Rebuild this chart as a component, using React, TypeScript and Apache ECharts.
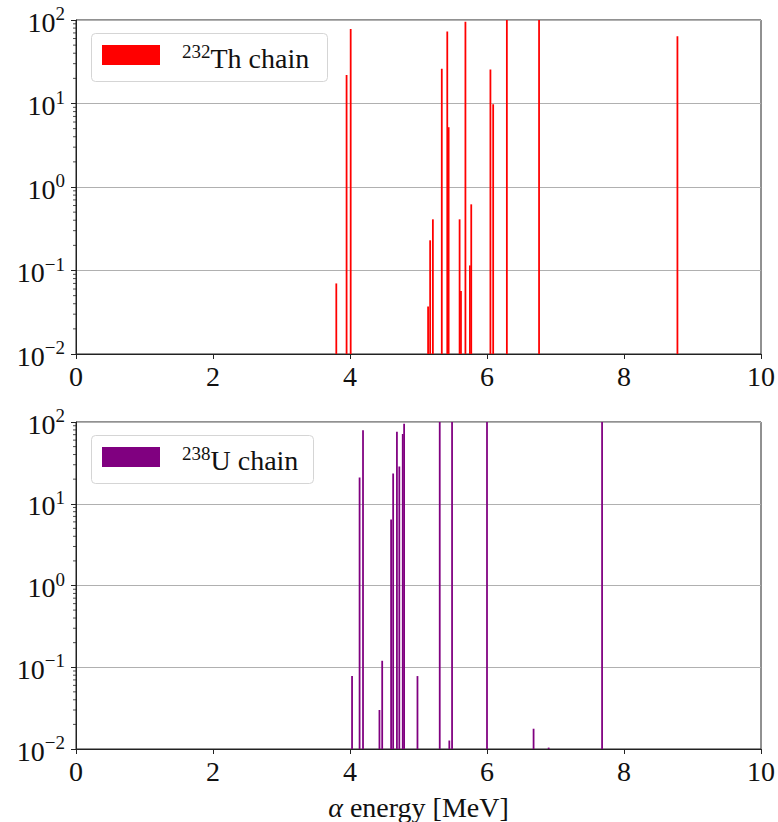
import React, { useEffect, useRef } from "react";
import * as echarts from "echarts";

// 232Th chain: alpha energies [MeV] and intensities [%]
const thEnergy = [3.80, 3.95, 4.01, 5.14, 5.17, 5.21, 5.34, 5.42, 5.44, 5.685, 5.60, 5.62, 5.75, 5.77, 6.05, 6.09, 6.29, 6.76, 8.78];
const thIntensity = [0.07, 22, 78, 0.037, 0.23, 0.41, 26, 73, 5.2, 95, 0.41, 0.057, 0.115, 0.62, 25.5, 9.8, 100, 100, 64];

// 238U chain
const uEnergy = [4.03, 4.14, 4.19, 4.43, 4.47, 4.60, 4.63, 4.685, 4.72, 4.77, 4.79, 4.985, 5.31, 5.45, 5.49, 6.00, 6.68, 6.90, 7.68];
const uIntensity = [0.078, 21, 79, 0.03, 0.12, 6.4, 23.5, 76, 28.5, 71.5, 95, 0.078, 100, 0.0127, 100, 100, 0.0177, 0.0104, 100];

const xTicks = [0, 2, 4, 6, 8, 10];
const yMin = 0.01;
const yMax = 100;

const BAR_W = 0.026;
const FONT = "'Liberation Serif', 'DejaVu Serif', serif";

function minorTickValues(): number[] {
  const out: number[] = [];
  for (let e = -2; e < 2; e++) {
    for (let m = 2; m <= 9; m++) out.push(m * Math.pow(10, e));
  }
  return out;
}

function supLabel(v: number) {
  const e = Math.round(Math.log10(v));
  const s = e < 0 ? "\u2212" + -e : String(e);
  return `{b|10}{s|${s}}`;
}

export default function App() {
  const ref = useRef<HTMLDivElement>(null);

  useEffect(() => {
    document.body.style.margin = "0";
    if (!ref.current) return;
    const chart = echarts.init(ref.current, null, { renderer: "svg" });

    const grids = [
      { left: 76, top: 20, width: 688, height: 334 },
      { left: 76, top: 422, width: 688, height: 332 },
    ];

    const xAxisBase = (gi: number) => ({
      type: "value" as const,
      gridIndex: gi,
      min: 0,
      max: 10,
      interval: 2,
      axisLine: { show: true, lineStyle: { color: "#222", width: 1 } },
      axisTick: { show: true, length: 5, lineStyle: { color: "#222" } },
      axisLabel: {
        show: true,
        margin: 8,
        fontSize: 28,
        fontFamily: FONT,
        color: "#111",
        formatter: (v: number) => (xTicks.includes(v) ? String(v) : ""),
      },
      splitLine: { show: false },
    });

    const yAxisBase = (gi: number) => ({
      type: "log" as const,
      gridIndex: gi,
      logBase: 10,
      min: yMin,
      max: yMax,
      interval: 1,
      axisLine: { show: true, lineStyle: { color: "#222", width: 1 } },
      axisTick: { show: true, length: 5, lineStyle: { color: "#222" } },
      axisLabel: {
        show: true,
        margin: 11,
        formatter: supLabel,
        rich: {
          b: { fontSize: 28, fontFamily: FONT, color: "#111", verticalAlign: "bottom", lineHeight: 32 },
          s: { fontSize: 19, fontFamily: FONT, color: "#111", verticalAlign: "top", lineHeight: 19 },
        },
      },
      splitLine: { show: true, lineStyle: { color: "#b0b0b0", width: 1 } },
    });

    const barSeries = (gi: number, energies: number[], vals: number[], color: string) => ({
      type: "custom" as const,
      xAxisIndex: gi,
      yAxisIndex: gi,
      clip: true,
      data: energies.map((e, i) => [e, vals[i]]),
      encode: { x: 0, y: 1 },
      renderItem: (params: any, api: any) => {
        const e = api.value(0);
        const v = api.value(1);
        const top = api.coord([e, v]);
        const base = api.coord([e, yMin]);
        const l = api.coord([e - BAR_W / 2, v])[0];
        const r = api.coord([e + BAR_W / 2, v])[0];
        return {
          type: "rect",
          shape: { x: l, y: top[1], width: r - l, height: base[1] - top[1] },
          style: { fill: color },
        };
      },
      z: 3,
    });

    const minorSeries = (gi: number) => ({
      type: "custom" as const,
      xAxisIndex: gi,
      yAxisIndex: gi,
      clip: false,
      silent: true,
      data: minorTickValues().map((v) => [0, v]),
      encode: { x: 0, y: 1 },
      renderItem: (params: any, api: any) => {
        const p = api.coord([0, api.value(1)]);
        return {
          type: "line",
          shape: { x1: p[0] - 3, y1: p[1], x2: p[0], y2: p[1] },
          style: { stroke: "#222", lineWidth: 0.8 },
        };
      },
      z: 4,
    });

    const legendItems = (top: number, color: string, sup: string, name: string, boxW: number) => [
      {
        type: "rect",
        shape: { x: 91.5, y: top + 0.5, width: boxW, height: 48, r: 4 },
        style: { fill: "rgba(255,255,255,0.85)", stroke: "#d5d5d5", lineWidth: 1 },
        z: 10,
      },
      {
        type: "rect",
        shape: { x: 102, y: top + 12, width: 58, height: 20 },
        style: { fill: color },
        z: 11,
      },
      {
        type: "text",
        x: 182,
        y: top + 24,
        style: {
          text: `{s|${sup}}{t|${name}}`,
          verticalAlign: "middle",
          align: "left",
          rich: {
            s: { fontSize: 19, fontFamily: FONT, fill: "#111", verticalAlign: "top", lineHeight: 19 },
            t: { fontSize: 28, fontFamily: FONT, fill: "#111", verticalAlign: "bottom", lineHeight: 31 },
          },
        },
        z: 11,
      },
    ];

    const bottomX: any = {
      ...xAxisBase(1),
      name: "{a|\u03b1} energy [MeV]",
      nameLocation: "middle",
      nameGap: 44,
      nameTextStyle: {
        fontSize: 28,
        fontFamily: FONT,
        color: "#111",
        rich: {
          a: { fontSize: 28, fontFamily: FONT, fontStyle: "italic", color: "#111" },
        },
      },
    };

    chart.setOption({
      animation: false,
      backgroundColor: "#fff",
      grid: grids.map((g) => ({ ...g, show: true, borderColor: "#222", borderWidth: 1, backgroundColor: "transparent" })),
      xAxis: [xAxisBase(0), bottomX],
      yAxis: [yAxisBase(0), yAxisBase(1)],
      series: [
        barSeries(0, thEnergy, thIntensity, "#ff0000"),
        barSeries(1, uEnergy, uIntensity, "#800080"),
        minorSeries(0),
        minorSeries(1),
      ],
      graphic: [
        ...legendItems(33, "#ff0000", "232", "Th chain", 236),
        ...legendItems(435, "#800080", "238", "U chain", 222),
      ],
    });

    return () => chart.dispose();
  }, []);

  return <div ref={ref} style={{ width: 778, height: 822 }} />;
}
